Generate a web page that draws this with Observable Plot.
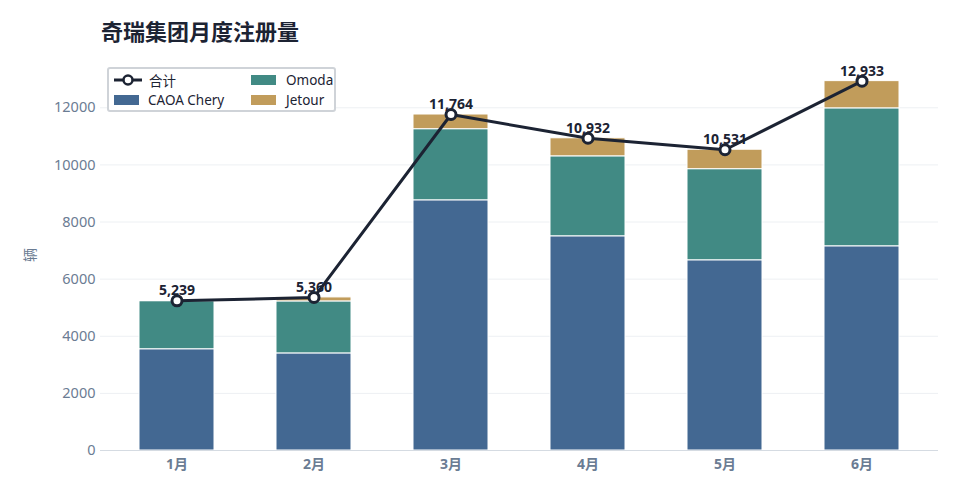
<!DOCTYPE html>
<html><head><meta charset="utf-8">
<script src="https://cdn.jsdelivr.net/npm/d3@7"></script>
<script src="https://cdn.jsdelivr.net/npm/@observablehq/plot@0.6"></script>
<style>
body{margin:0;background:#fff;font-family:"Noto Sans","Noto Sans CJK SC",sans-serif;}
#wrap{position:relative;width:961px;height:496px;}
#title{height:55px;box-sizing:border-box;padding:17px 0 0 101px;font-size:22px;font-weight:bold;color:#1c2333;font-family:"Noto Sans CJK SC",sans-serif;line-height:1.2;}
#legend{position:absolute;left:107px;top:67px;width:225px;height:41px;border:2px solid #cfd3d8;border-radius:3px;background:#fff;font-size:13.5px;color:#1c2333;}
.item{position:absolute;display:flex;align-items:center;gap:8px;white-space:nowrap;}
.sw{display:inline-block;width:25px;height:10px;}
</style></head>
<body>
<div id="wrap">
<div id="title">奇瑞集团月度注册量</div>
<div id="chart"></div>
<div id="legend"></div>
</div>
<script>
const months = ["1月","2月","3月","4月","5月","6月"];
const caoa = [3545, 3400, 8760, 7500, 6660, 7150];
const omoda = [1684, 1820, 2490, 2800, 3190, 4830];
const jetour = [10, 140, 514, 632, 681, 953];
const totals = [5239, 5360, 11764, 10932, 10531, 12933];
const seriesNames = ["CAOA Chery", "Omoda", "Jetour"];
const seriesColors = ["#436892", "#418a84", "#c19c5b"];
const lineColor = "#1c2333";
const axisColor = "#6b7c93";
const yTicks = [0, 2000, 4000, 6000, 8000, 10000, 12000];

const stacked = [];
months.forEach((m, i) => {
  stacked.push({month: m, series: seriesNames[0], value: caoa[i]});
  stacked.push({month: m, series: seriesNames[1], value: omoda[i]});
  stacked.push({month: m, series: seriesNames[2], value: jetour[i]});
});
const totalData = months.map((m, i) => ({month: m, total: totals[i]}));
const fmt = d3.format(",");
const ff = '"Noto Sans","Noto Sans CJK SC",sans-serif';

const chart = Plot.plot({
  width: 961, height: 441,
  marginLeft: 100, marginRight: 23, marginTop: 18, marginBottom: 46,
  style: 'font-family: "Noto Sans","Noto Sans CJK SC",sans-serif; font-size: 14px; color: #6b7c93; background: #fff;',
  x: {domain: months, paddingInner: 0.45, paddingOuter: 0.28, label: null, axis: null},
  y: {domain: [0, 13200], label: null, axis: null},
  color: {domain: seriesNames, range: seriesColors},
  marks: [
    Plot.gridY(yTicks, {stroke: "#edf0f3", strokeOpacity: 1}),
    Plot.text(yTicks, {y: d => d, frameAnchor: "left", dx: -5, textAnchor: "end", text: d => String(d), fontSize: 14.5, fill: axisColor, fontFamily: ff}),
    Plot.text(months, {x: d => d, frameAnchor: "bottom", dy: 14, lineAnchor: "middle", text: d => d, fontSize: 14, fontWeight: "bold", fill: axisColor, fontFamily: ff}),
    Plot.text(["辆"], {frameAnchor: "left", dx: -70, rotate: -90, fontSize: 14, fill: axisColor, fontFamily: '"Noto Sans CJK SC",sans-serif'}),
    Plot.barY(stacked, {x: "month", y: "value", fill: "series", order: seriesNames, stroke: "#fff", strokeWidth: 1}),
    Plot.ruleY([0], {stroke: "#d5dbe2", strokeWidth: 1.2}),
    Plot.text(totalData, {x: "month", y: "total", text: d => fmt(d.total), dy: -10, fontSize: 14, fontWeight: "bold", fill: lineColor, fontFamily: ff}),
    Plot.line(totalData, {x: "month", y: "total", stroke: lineColor, strokeWidth: 3}),
    Plot.dot(totalData, {x: "month", y: "total", r: 5, fill: "#fff", stroke: lineColor, strokeWidth: 3})
  ]
});
document.getElementById("chart").appendChild(chart);

const legend = document.getElementById("legend");
const items = [
  {label: "合计", type: "line", left: 4, top: 2},
  {label: seriesNames[0], color: seriesColors[0], left: 5, top: 22},
  {label: seriesNames[1], color: seriesColors[1], left: 142, top: 2},
  {label: seriesNames[2], color: seriesColors[2], left: 142, top: 22}
];
items.forEach(it => {
  const el = document.createElement("div");
  el.className = "item";
  el.style.left = it.left + "px";
  el.style.top = it.top + "px";
  if (it.type === "line") {
    el.innerHTML = `<svg width="30" height="14"><line x1="1" y1="7" x2="29" y2="7" stroke="${lineColor}" stroke-width="3"/><circle cx="15" cy="7" r="4.5" fill="#fff" stroke="${lineColor}" stroke-width="2.5"/></svg><span>${it.label}</span>`;
    el.style.gap = "6px";
  } else {
    el.innerHTML = `<span class="sw" style="background:${it.color}"></span><span>${it.label}</span>`;
    el.style.gap = it.left > 100 ? "10px" : "9px";
  }
  el.style.height = "18px";
  legend.appendChild(el);
});
</script>
</body></html>
